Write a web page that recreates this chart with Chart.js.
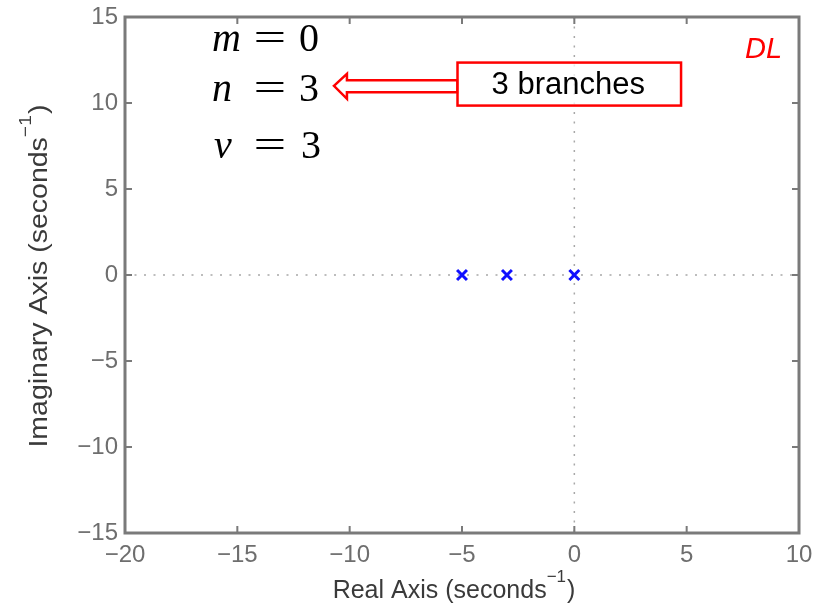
<!DOCTYPE html>
<html>
<head>
<meta charset="utf-8">
<script src="https://cdn.jsdelivr.net/npm/chart.js@4/dist/chart.umd.min.js"></script>
<style>
  html, body { margin: 0; padding: 0; background: #fff; }
  #c { display: block; }
</style>
</head>
<body>
<canvas id="c" width="823" height="605"></canvas>
<script>
// ---- data ----
const poleReal = [-5, -3, 0];
const poleImag = [0, 0, 0];
const xTicks = [-20, -15, -10, -5, 0, 5, 10];
const yTicks = [-15, -10, -5, 0, 5, 10, 15];
const xTitle = ['Real Axis (seconds', '\u22121', ')'];
const yTitle = ['Imaginary Axis (seconds', '\u22121', ')'];
const eqLines = [['m', '0'], ['n', '3'], ['\u03BD', '3']];
const calloutText = '3 branches';
const tagText = 'DL';

const fmt = v => (v < 0 ? '\u2212' + Math.abs(v) : String(v));
const SANS = '"Liberation Sans", Arial, sans-serif';
const SERIF = '"Liberation Serif", "DejaVu Serif", serif';

function drawTitle(ctx, parts, size, supSize, rise) {
  ctx.font = size + 'px ' + SANS;
  ctx.textAlign = 'left';
  ctx.textBaseline = 'alphabetic';
  let x = 0;
  ctx.fillText(parts[0], x, 0);
  x += ctx.measureText(parts[0]).width;
  ctx.font = supSize + 'px ' + SANS;
  ctx.fillText(parts[1], x, -rise);
  x += ctx.measureText(parts[1]).width + 1;
  ctx.font = size + 'px ' + SANS;
  ctx.fillText(parts[2], x, 0);
}
function titleWidth(ctx, parts, size, supSize) {
  ctx.font = size + 'px ' + SANS;
  let w = ctx.measureText(parts[0]).width + ctx.measureText(parts[2]).width;
  ctx.font = supSize + 'px ' + SANS;
  return w + ctx.measureText(parts[1]).width + 1;
}

const framePlugin = {
  id: 'frame',
  beforeDatasetsDraw(chart) {
    const { ctx, chartArea: a, scales: { x, y } } = chart;
    ctx.save();
    ctx.strokeStyle = '#a8a8a8';
    ctx.lineWidth = 1.5;
    ctx.setLineDash([2, 7.5]);
    const x0 = x.getPixelForValue(0), y0 = y.getPixelForValue(0);
    ctx.beginPath();
    ctx.moveTo(a.left, y0); ctx.lineTo(a.right, y0);
    ctx.moveTo(x0, a.top); ctx.lineTo(x0, a.bottom);
    ctx.stroke();
    ctx.restore();
  },
  afterDatasetsDraw(chart) {
    const { ctx, chartArea: a, scales: { x, y } } = chart;
    ctx.save();
    // box frame
    ctx.strokeStyle = '#7a7a7a';
    ctx.lineWidth = 3;
    ctx.setLineDash([]);
    ctx.strokeRect(a.left, a.top, a.right - a.left, a.bottom - a.top);
    // inward ticks
    ctx.lineWidth = 2;
    const tl = 7;
    ctx.beginPath();
    xTicks.forEach(v => {
      const px = x.getPixelForValue(v);
      ctx.moveTo(px, a.bottom); ctx.lineTo(px, a.bottom - tl);
      ctx.moveTo(px, a.top); ctx.lineTo(px, a.top + tl);
    });
    yTicks.forEach(v => {
      const py = y.getPixelForValue(v);
      ctx.moveTo(a.left, py); ctx.lineTo(a.left + tl, py);
      ctx.moveTo(a.right, py); ctx.lineTo(a.right - tl, py);
    });
    ctx.stroke();

    // axis titles
    ctx.fillStyle = '#3a3a3a';
    const xw = titleWidth(ctx, xTitle, 25, 17);
    ctx.save();
    ctx.translate((a.left + a.right) / 2 - 8 - xw / 2, 598);
    drawTitle(ctx, xTitle, 25, 17, 16);
    ctx.restore();
    const ys = 1.14;
    const yw = titleWidth(ctx, yTitle, 25, 17) * ys;
    ctx.save();
    ctx.translate(47, (a.top + a.bottom) / 2 + 1 + yw / 2);
    ctx.rotate(-Math.PI / 2);
    ctx.scale(ys, 1);
    drawTitle(ctx, yTitle, 25, 17, 16);
    ctx.restore();

    // equations (positions in data units)
    const ex = x.getPixelForValue(-16.13);
    const baselines = [13.0, 10.12, 6.8];
    ctx.fillStyle = '#000';
    ctx.textBaseline = 'alphabetic';
    eqLines.forEach((ln, i) => {
      const by = y.getPixelForValue(baselines[i]);
      ctx.font = 'italic 40px ' + SERIF;
      ctx.textAlign = 'left';
      ctx.fillText(ln[0], ex + (i === 2 ? 2 : 0), by);
      ctx.font = '40px ' + SERIF;
      ctx.save();
      ctx.translate(ex + 58, by);
      ctx.scale(1.45, 1);
      ctx.textAlign = 'center';
      ctx.fillText('=', 0, 0);
      ctx.restore();
      ctx.textAlign = 'left';
      ctx.fillText(ln[1], ex + 87 + (i === 2 ? 2 : 0), by);
    });

    // hollow arrow
    const tipX = x.getPixelForValue(-10.7), cy = y.getPixelForValue(11.0);
    const boxL = x.getPixelForValue(-5.2), boxR = x.getPixelForValue(4.75);
    const boxT = y.getPixelForValue(12.35), boxB = y.getPixelForValue(9.85);
    const headX = tipX + 13;
    ctx.strokeStyle = '#ff0000';
    ctx.lineWidth = 2.5;
    ctx.fillStyle = '#fff';
    ctx.beginPath();
    ctx.moveTo(tipX, cy);
    ctx.lineTo(headX, cy - 12);
    ctx.lineTo(headX, cy - 5.5);
    ctx.lineTo(boxL, cy - 5.5);
    ctx.lineTo(boxL, cy + 6.5);
    ctx.lineTo(headX, cy + 6.5);
    ctx.lineTo(headX, cy + 13);
    ctx.closePath();
    ctx.fill();
    ctx.stroke();
    // callout box
    ctx.fillStyle = 'rgba(255,255,255,0.75)';
    ctx.fillRect(boxL, boxT, boxR - boxL, boxB - boxT);
    ctx.strokeRect(boxL, boxT, boxR - boxL, boxB - boxT);
    ctx.fillStyle = '#000';
    ctx.font = '31px ' + SANS;
    ctx.textAlign = 'center';
    ctx.textBaseline = 'middle';
    ctx.fillText(calloutText, (boxL + boxR) / 2 - 1, (boxT + boxB) / 2 + 1);

    // DL tag
    ctx.fillStyle = '#ff0000';
    ctx.font = 'italic 29px ' + SANS;
    ctx.textAlign = 'left';
    ctx.textBaseline = 'alphabetic';
    ctx.fillText(tagText, x.getPixelForValue(7.6), y.getPixelForValue(12.6));
    ctx.restore();
  }
};

new Chart(document.getElementById('c'), {
  type: 'scatter',
  data: {
    datasets: [{
      data: poleReal.map((r, i) => ({ x: r, y: poleImag[i] })),
      pointStyle: 'crossRot',
      radius: 7,
      borderWidth: 3,
      borderColor: '#1010ff',
      backgroundColor: '#1010ff'
    }]
  },
  options: {
    responsive: false,
    animation: false,
    layout: { padding: { left: 0, top: 17, right: 24, bottom: 0 } },
    plugins: { legend: { display: false }, tooltip: { enabled: false } },
    scales: {
      x: {
        type: 'linear', min: -20, max: 10,
        afterBuildTicks: s => { s.ticks = xTicks.map(v => ({ value: v })); },
        afterFit: s => { s.height = 72; s.paddingLeft = 0; s.paddingRight = 0; },
        grid: { display: false, drawTicks: false },
        border: { display: false },
        ticks: {
          callback: fmt, color: '#6e6e6e', padding: 8, maxRotation: 0,
          font: { family: SANS, size: 24 }
        },
        title: { display: false }
      },
      y: {
        type: 'linear', min: -15, max: 15,
        afterBuildTicks: s => { s.ticks = yTicks.map(v => ({ value: v })); },
        afterFit: s => { s.width = 125; s.paddingTop = 0; s.paddingBottom = 0; },
        grid: { display: false, drawTicks: false },
        border: { display: false },
        ticks: {
          callback: fmt, color: '#6e6e6e', padding: 7,
          font: { family: SANS, size: 24 }
        },
        title: { display: false }
      }
    }
  },
  plugins: [framePlugin]
});
</script>
</body>
</html>
